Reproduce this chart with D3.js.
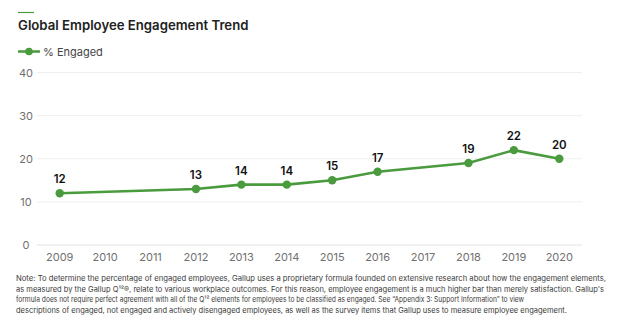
<!DOCTYPE html>
<html><head><meta charset="utf-8">
<script src="https://cdn.jsdelivr.net/npm/d3@7"></script>
<style>
html,body{margin:0;padding:0;background:#fff;}
svg{display:block;font-family:Inter, "Noto Sans", sans-serif;}
</style></head><body>
<svg id="c" width="624" height="326"></svg>
<script>
const years = ["2009","2010","2011","2012","2013","2014","2015","2016","2017","2018","2019","2020"];
const dataYears = ["2009","2012","2013","2014","2015","2016","2018","2019","2020"];
const engaged = [12,13,14,14,15,17,19,22,20];
const yTicks = [0,10,20,30,40];
const title = "Global Employee Engagement Trend";
const seriesName = "% Engaged";
const noteLines = [
 "Note: To determine the percentage of engaged employees, Gallup uses a proprietary formula founded on extensive research about how the engagement elements,",
 "as measured by the Gallup Q\u00B9\u00B2\u00AE, relate to various workplace outcomes. For this reason, employee engagement is a much higher bar than merely satisfaction. Gallup's",
 "formula does not require perfect agreement with all of the Q\u00B9\u00B2 elements for employees to be classified as engaged. See \u201CAppendix 3: Support Information\u201D to view",
 "descriptions of engaged, not engaged and actively disengaged employees, as well as the survey items that Gallup uses to measure employee engagement."
];
const noteWidths = [590, 588, 508, 551];
const green = "#4a9a3e";

(function(){
const svg = d3.select("#c");
const mLeft = 37, mRight = 582, mTop = 72.5, mBottom = 245;
const x = d3.scalePoint().domain(years).range([mLeft, mRight]).padding(0.5);
const y = d3.scaleLinear().domain([0,40]).range([mBottom, mTop]);

svg.append("line").attr("x1",18).attr("x2",34).attr("y1",12.5).attr("y2",12.5).attr("stroke",green).attr("stroke-width",1.2);
svg.append("text").attr("x",18).attr("y",29.5).attr("font-size",13.2).attr("font-weight",600).attr("fill","#222").text(title);

svg.append("line").attr("x1",18).attr("x2",40).attr("y1",51.5).attr("y2",51.5).attr("stroke",green).attr("stroke-width",2.5);
svg.append("circle").attr("cx",29).attr("cy",51.5).attr("r",3.8).attr("fill",green);
svg.append("text").attr("x",43).attr("y",55.5).attr("font-size",11).attr("fill","#444").text(seriesName);

svg.append("g").selectAll("line").data(yTicks).join("line")
  .attr("x1",mLeft).attr("x2",mRight).attr("y1",d=>y(d)).attr("y2",d=>y(d))
  .attr("stroke",d=> d===0 ? "#e2e2e2" : "#efefef").attr("stroke-width",1);

svg.append("g").selectAll("text").data(yTicks).join("text")
  .attr("x",26).attr("y",d=>y(d)+4).attr("text-anchor","middle")
  .attr("font-size",11).attr("fill","#707070").text(d=>d);

svg.append("g").selectAll("text").data(years).join("text")
  .attr("x",d=>x(d)).attr("y",260.5).attr("text-anchor","middle")
  .attr("font-size",11).attr("fill","#707070").text(d=>d);

const pts = dataYears.map((yr,i)=>({yr, v:engaged[i]}));
const line = d3.line().x(d=>x(d.yr)).y(d=>y(d.v));
svg.append("path").datum(pts).attr("d",line).attr("fill","none").attr("stroke",green).attr("stroke-width",2.6);
svg.append("g").selectAll("circle").data(pts).join("circle")
  .attr("cx",d=>x(d.yr)).attr("cy",d=>y(d.v)).attr("r",4.2).attr("fill",green);
svg.append("g").selectAll("text").data(pts).join("text")
  .attr("x",d=>x(d.yr)).attr("y",d=>y(d.v)-10).attr("text-anchor","middle")
  .attr("font-size",11.5).attr("font-weight",600).attr("fill","#111").text(d=>d.v);

svg.append("g").selectAll("text").data(noteLines).join("text")
  .attr("x",16).attr("y",(d,i)=>281+i*10.5)
  .attr("font-size",7.6).attr("fill","#3a3a3a")
  .attr("textLength",(d,i)=>noteWidths[i]).attr("lengthAdjust","spacingAndGlyphs")
  .text(d=>d);
})();
</script>
</body></html>
